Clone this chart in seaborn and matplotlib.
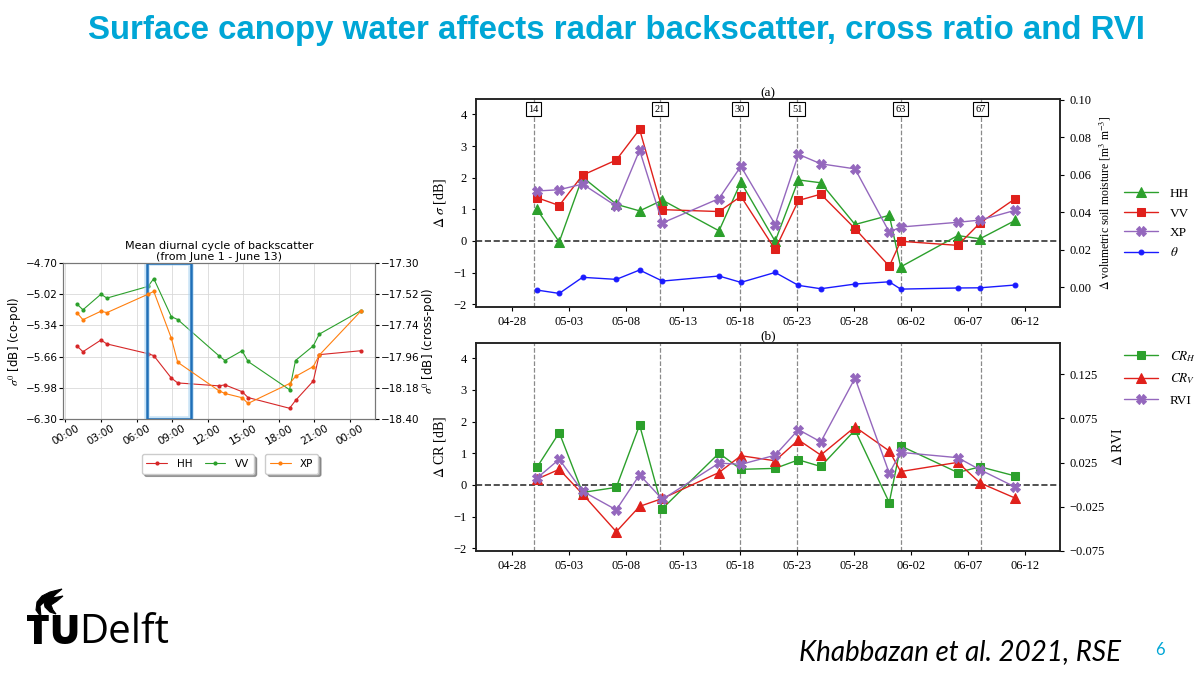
#!/usr/bin/env python3
# Slide: surface canopy water vs. radar backscatter, cross ratio and RVI

import datetime
import matplotlib
matplotlib.use("Agg")
import matplotlib.pyplot as plt
import matplotlib.dates as mdates
from matplotlib.path import Path
from matplotlib.patches import PathPatch
import seaborn as sns
import pandas as pd

# ---- left chart: mean diurnal cycle (hours after midnight, 1-13 June)
diurnal_hours = [0.97, 1.48, 3.0, 3.5, 6.97, 7.45, 8.93, 9.47, 12.93, 13.45,
                 14.9, 15.4, 18.9, 19.4, 20.9, 21.4, 24.9]
hh_diurnal = [-5.55, -5.61, -5.49, -5.53, -5.63, -5.65, -5.88, -5.93, -5.96, -5.95,
              -6.02, -6.08, -6.19, -6.11, -5.91, -5.64, -5.60]
vv_diurnal = [-5.12, -5.18, -5.02, -5.06, -4.94, -4.86, -5.25, -5.28, -5.65, -5.70,
              -5.60, -5.71, -6.00, -5.70, -5.55, -5.43, -5.19]
xp_diurnal = [-17.65, -17.70, -17.64, -17.65, -17.52, -17.50, -17.83, -18.00, -18.20, -18.22,
              -18.25, -18.29, -18.15, -18.10, -18.03, -17.95, -17.64]
copol_ticks = [-6.30, -5.98, -5.66, -5.34, -5.02, -4.70]
crosspol_ticks = [-18.40, -18.18, -17.96, -17.74, -17.52, -17.30]
window_hours = [6.87, 10.56]  # highlighted dew window

# ---- right panels: differences at each acquisition
dates = ["2018-04-30 05:00", "2018-05-02 04:00", "2018-05-04 05:00", "2018-05-07 04:00",
         "2018-05-09 05:00", "2018-05-11 05:00", "2018-05-16 04:00", "2018-05-18 02:00",
         "2018-05-21 02:00", "2018-05-23 03:00", "2018-05-25 02:00", "2018-05-28 02:00",
         "2018-05-31 02:00", "2018-06-01 02:00", "2018-06-06 02:00", "2018-06-08 01:00",
         "2018-06-11 03:00"]
d_hh = [1.0, -0.03, 2.02, 1.16, 0.95, 1.29, 0.32, 1.86, -0.01, 1.93, 1.84, 0.52,
        0.81, -0.82, 0.17, 0.07, 0.65]
d_vv = [1.37, 1.12, 2.08, 2.56, 3.53, 0.99, 0.93, 1.41, -0.27, 1.28, 1.48, 0.39,
        -0.80, -0.01, -0.14, 0.57, 1.34]
d_xp = [1.58, 1.62, 1.80, 1.10, 2.87, 0.57, 1.34, 2.36, 0.52, 2.74, 2.44, 2.28,
        0.28, 0.44, 0.59, 0.66, 0.97]
d_theta = [-0.0016, -0.0034, 0.0052, 0.0041, 0.0091, 0.0032, 0.0059, 0.0025, 0.0078,
           0.0009, -0.0009, 0.0016, 0.0028, -0.0011, -0.0005, -0.0004, 0.0011]
d_crh = [0.55, 1.65, -0.24, -0.08, 1.89, -0.75, 1.0, 0.49, 0.52, 0.79, 0.58, 1.73,
         -0.56, 1.23, 0.39, 0.57, 0.28]
d_crv = [0.18, 0.49, -0.29, -1.48, -0.68, -0.43, 0.39, 0.92, 0.76, 1.42, 0.94, 1.83,
         1.07, 0.42, 0.71, 0.06, -0.42]
d_rvi = [0.0072, 0.0287, -0.0075, -0.0287, 0.0111, -0.0168, 0.0244, 0.0229, 0.0333,
         0.0623, 0.0484, 0.1207, 0.0129, 0.0365, 0.0305, 0.0168, -0.0029]

event_dates = ["2018-04-29 22:00", "2018-05-11 00:00", "2018-05-18 00:00",
               "2018-05-23 00:00", "2018-06-01 02:00", "2018-06-08 02:00"]
event_labels = ["14", "21", "30", "51", "63", "67"]
date_ticks = ["2018-04-28", "2018-05-03", "2018-05-08", "2018-05-13", "2018-05-18",
              "2018-05-23", "2018-05-28", "2018-06-02", "2018-06-07", "2018-06-12"]
rvi_ticks = [-0.075, -0.025, 0.025, 0.075, 0.125]
sm_ticks = [0.0, 0.02, 0.04, 0.06, 0.08, 0.10]

TUD_CYAN = "#00A6D6"
SERIF = ["Liberation Serif", "DejaVu Serif"]

sns.set_style("ticks")
plt.rcParams["font.family"] = ["DejaVu Sans"]
plt.rcParams["mathtext.fontset"] = "stix"
for k in ["text.color", "axes.labelcolor", "xtick.color", "ytick.color"]:
    plt.rcParams[k] = "black"

fig = plt.figure(figsize=(12, 6.75), dpi=100)

# ---------------- slide text
fig.text(616 / 1200, 1 - 31 / 675,
         "Surface canopy water affects radar backscatter, cross ratio and RVI",
         ha="center", va="center", color=TUD_CYAN, fontsize=23.8, fontweight="bold",
         family=["Liberation Sans Narrow", "Liberation Sans"])
fig.text(0.022, 1 - 633 / 675, "TU", ha="left", va="center", fontsize=29,
         fontweight="heavy", family=["Open Sans", "DejaVu Sans"], color="black")
fig.text(0.066, 1 - 633 / 675, "Delft", ha="left", va="center", fontsize=29,
         family=["Open Sans", "DejaVu Sans"], color="black")
fig.text(0.8, 1 - 652 / 675, "Khabbazan et al. 2021, RSE", ha="center", va="center",
         fontsize=20, style="italic", family=["Lato", "DejaVu Sans"])
fig.text(0.967, 1 - 650 / 675, "6", ha="center", va="center", fontsize=12,
         color=TUD_CYAN, family=["Lato", "DejaVu Sans"])

# small flame above the logo, drawn in pixel space
logo = fig.add_axes([0, 0, 1, 1], facecolor="none")
logo.set_xlim(0, 1200)
logo.set_ylim(675, 0)
logo.axis("off")
flame = [(41, 617), (36, 610), (37, 602), (42, 596), (50, 592), (62, 589),
         (56, 594), (52, 598), (58, 597), (63, 596), (57, 601), (51, 605),
         (53, 610), (56, 614), (50, 612), (45, 607), (44, 602), (40, 606), (41, 617)]
logo.add_patch(PathPatch(Path(flame), facecolor="black", edgecolor="black", lw=0.8))

# ---------------- left: diurnal cycle
base = datetime.datetime(2018, 6, 1)
tday = [base + datetime.timedelta(hours=h) for h in diurnal_hours]

axl = fig.add_axes([63 / 1200, 1 - 419 / 675, 312 / 1200, 156 / 675])
axr = axl.twinx()
sns.lineplot(x=tday, y=hh_diurnal, ax=axl, color="#d62728", marker="o",
             markersize=3, markeredgewidth=0, linewidth=0.8)
sns.lineplot(x=tday, y=vv_diurnal, ax=axl, color="#2ca02c", marker="o",
             markersize=3, markeredgewidth=0, linewidth=0.8)
sns.lineplot(x=tday, y=xp_diurnal, ax=axr, color="#ff7f0e", marker="o",
             markersize=3, markeredgewidth=0, linewidth=0.8)
axl.set_ylim(-6.30, -4.70)
axr.set_ylim(-18.40, -17.30)
axl.set_yticks(copol_ticks)
axl.set_yticklabels([f"{v:.2f}".replace("-", "\u2212") for v in copol_ticks])
axr.set_yticks(crosspol_ticks)
axr.set_yticklabels([f"{v:.2f}".replace("-", "\u2212") for v in crosspol_ticks])
axl.set_xlim(base - datetime.timedelta(hours=0.2), base + datetime.timedelta(hours=26.1))
axl.xaxis.set_major_locator(mdates.HourLocator(byhour=range(0, 24, 3)))
axl.xaxis.set_major_formatter(mdates.DateFormatter("%H:%M"))
axl.tick_params(axis="x", labelrotation=30, labelsize=7.5, length=2, pad=1)
axl.tick_params(axis="y", labelsize=7.5, length=3, pad=1)
axr.tick_params(axis="y", labelsize=7.5, length=3, pad=1)
axl.grid(True, color="#d9d9d9", linewidth=0.6)
axl.set_axisbelow(True)
for a in (axl, axr):
    for s in a.spines.values():
        s.set_color("#777777")
        s.set_linewidth(0.8)
axl.set_ylabel("$\\sigma^0$ [dB] (co-pol)", fontsize=8.5, labelpad=1)
axr.set_ylabel("$\\sigma^0$ [dB] (cross-pol)", fontsize=8.5, labelpad=1)
axl.set_xlabel("")
axl.set_title("Mean diurnal cycle of backscatter\n(from June 1 - June 13)",
              fontsize=8, pad=2, linespacing=1.1)
w0 = base + datetime.timedelta(hours=window_hours[0])
w1 = base + datetime.timedelta(hours=window_hours[1])
axl.axvspan(w0, w1, fill=False, edgecolor="#a9d3f0", linewidth=4, alpha=0.6, zorder=5)
axl.axvspan(w0, w1, fill=False, edgecolor="#1f6fb8", linewidth=1.8, zorder=6)

l_hh, l_vv = axl.get_lines()[:2]
l_xp = axr.get_lines()[0]
small_leg = dict(fontsize=7.5, fancybox=True, shadow=True, handlelength=2.0,
                 handletextpad=0.9, borderpad=0.45)
fig.legend([l_hh, l_vv], ["HH", "VV"], ncol=2, loc="upper right",
           bbox_to_anchor=(259 / 1200, 1 - 449 / 675), columnspacing=1.2, **small_leg)
fig.legend([l_xp], ["XP"], loc="upper left", bbox_to_anchor=(260 / 1200, 1 - 449 / 675),
           **small_leg)

# ---------------- right: panels (a) and (b)
t = pd.to_datetime(dates)
ev = pd.to_datetime(event_dates)
xlim = (pd.Timestamp("2018-04-24 21:00"), pd.Timestamp("2018-06-15 01:00"))
ax_a = fig.add_axes([476 / 1200, 1 - 306.7 / 675, 584 / 1200, 207.7 / 675])
ax_b = fig.add_axes([476 / 1200, 1 - 550.7 / 675, 584 / 1200, 208 / 675])

GREEN, RED, PURPLE, BLUE = "#2ca02c", "#e0201b", "#9467bd", "#1a1aff"


def series(ax, y, color, marker, ms):
    sns.lineplot(x=t, y=y, ax=ax, color=color, marker=marker, markersize=ms,
                 markeredgecolor=color, linewidth=1.0, legend=False)
    return ax.get_lines()[-1]


def style_panel(ax, twin, letter):
    ax.set_xlim(*xlim)
    ax.set_ylim(-2.08, 4.49)
    ax.set_yticks([-2, -1, 0, 1, 2, 3, 4])
    ax.set_xticks(pd.to_datetime(date_ticks))
    ax.xaxis.set_major_formatter(mdates.DateFormatter("%m-%d"))
    ax.axhline(0, color="#333333", linestyle="--", linewidth=1.2, zorder=1)
    for d in ev:
        ax.axvline(d, color="#8a8a8a", linestyle="--", linewidth=0.9, zorder=1)
    for a in (ax, twin):
        a.tick_params(labelsize=9, length=3, width=0.8)
        for lab in a.get_xticklabels() + a.get_yticklabels():
            lab.set_family(SERIF)
        for s in a.spines.values():
            s.set_linewidth(1.1)
            s.set_color("#222222")
    ax.set_title(letter, fontsize=9.5, family=SERIF, pad=2)
    ax.set_xlabel("")


tw_a = ax_a.twinx()
h1 = series(ax_a, d_hh, GREEN, "^", 6.5)
h2 = series(ax_a, d_vv, RED, "s", 6)
h3 = series(ax_a, d_xp, PURPLE, "X", 7)
h4 = series(tw_a, d_theta, BLUE, "o", 3.5)
tw_a.set_ylim(-0.0105, 0.1005)
tw_a.set_yticks(sm_ticks)
tw_a.set_yticklabels([f"{v:.2f}" for v in sm_ticks])
style_panel(ax_a, tw_a, "(a)")
for d, lab in zip(ev, event_labels):
    ax_a.text(d, 4.17, lab, ha="center", va="center", fontsize=7.5, family=SERIF,
              bbox=dict(boxstyle="square,pad=0.25", fc="white", ec="black", lw=0.8),
              zorder=6)
ax_a.set_ylabel("$\\Delta\\ \\sigma$ [dB]", fontsize=10, family=SERIF, labelpad=4)
tw_a.set_ylabel("$\\Delta$ volumetric soil moisture [m$^3$ m$^{-3}$]", fontsize=8.5,
                family=SERIF, labelpad=5)

tw_b = ax_b.twinx()
g1 = series(ax_b, d_crh, GREEN, "s", 6)
g2 = series(ax_b, d_crv, RED, "^", 6.5)
g3 = series(tw_b, d_rvi, PURPLE, "X", 7)
tw_b.set_ylim(-0.075, 0.1609)
tw_b.set_yticks(rvi_ticks)
tw_b.set_yticklabels([f"{v:.3f}".replace("-", "\u2212") for v in rvi_ticks])
style_panel(ax_b, tw_b, "(b)")
ax_b.set_ylabel("$\\Delta$ CR [dB]", fontsize=10, family=SERIF, labelpad=4)
tw_b.set_ylabel("$\\Delta$ RVI", fontsize=10, family=SERIF, labelpad=5)

leg_kw = dict(loc="upper left", frameon=False, handlelength=2.6, handletextpad=0.9,
              prop={"family": SERIF, "size": 9.5})
fig.legend([h1, h2, h3, h4], ["HH", "VV", "XP", "$\\theta$"],
           bbox_to_anchor=(1112 / 1200, 1 - 176 / 675), labelspacing=0.55, **leg_kw)
fig.legend([g1, g2, g3], ["$CR_H$", "$CR_V$", "RVI"],
           bbox_to_anchor=(1112 / 1200, 1 - 337 / 675), labelspacing=0.6, **leg_kw)

fig.savefig("out.png", dpi=100)
